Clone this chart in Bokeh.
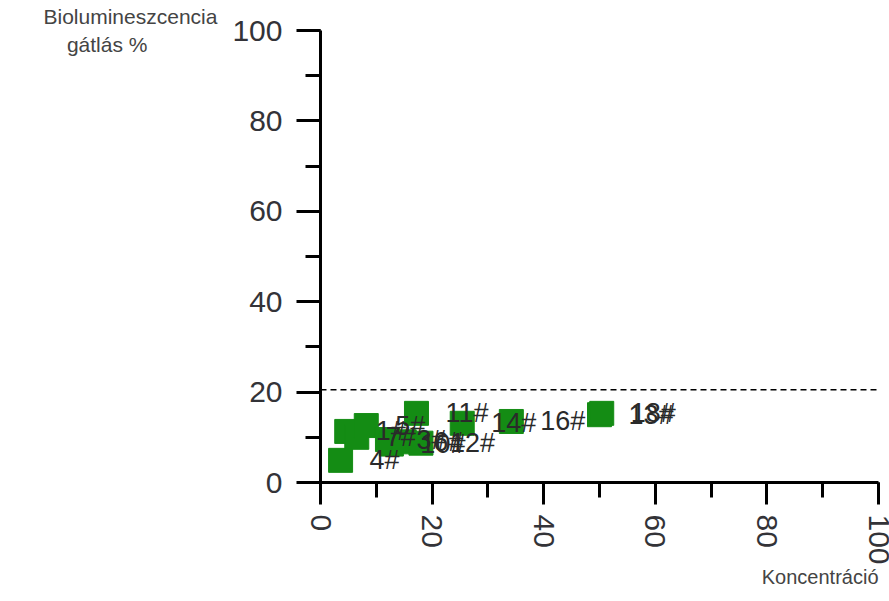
import math
from bokeh.plotting import figure
from bokeh.models import Range1d, SingleIntervalTicker, Span, ColumnDataSource, Title
from bokeh.core.properties import value
from bokeh.embed import file_html
from bokeh.resources import INLINE

# Data
names = ["4#", "1#", "7#", "5#", "3#", "10#", "6#", "12#", "11#", "14#", "16#", "13#", "18#"]
conc = [3.6, 4.7, 6.5, 8.2, 12.0, 12.7, 15.0, 18.0, 17.2, 25.4, 34.2, 50.0, 50.4]
inhib = [4.9, 11.3, 10.0, 12.6, 9.5, 8.5, 9.0, 8.7, 15.3, 13.1, 13.5, 15.0, 15.3]
threshold = 20.5
x_label = "Koncentráció"
y_label_lines = ["Biolumineszcencia", "gátlás %"]

FONT = "Liberation Sans"
NBSP = "\u00a0"

src = ColumnDataSource(dict(x=conc, y=inhib, name=names))

p = figure(width=889, height=601, output_backend="svg", toolbar_location=None,
           x_range=Range1d(0, 100), y_range=Range1d(0, 100),
           min_border_left=320, min_border_right=11, min_border_top=30, min_border_bottom=119)
p.outline_line_color = None
p.grid.visible = False
p.background_fill_color = "white"

for ax in (p.xaxis[0], p.yaxis[0]):
    ax.ticker = SingleIntervalTicker(interval=20, num_minor_ticks=2)
    ax.axis_line_width = 3
    ax.major_tick_line_width = 3
    ax.minor_tick_line_width = 3
    ax.major_tick_in = 0
    ax.minor_tick_in = 0
    ax.major_label_text_font = FONT
    ax.major_label_text_font_size = "30px"
    ax.major_label_text_color = "#333338"
    ax.axis_label_text_font = FONT
    ax.axis_label_text_font_size = "21px"
    ax.axis_label_text_font_style = "normal"
    ax.axis_label_text_color = "#444444"

p.yaxis.major_tick_out = 24
p.yaxis.minor_tick_out = 15
p.yaxis.major_label_standoff = 14
p.xaxis.major_tick_out = 22
p.xaxis.minor_tick_out = 15
p.xaxis.major_label_standoff = 10
p.xaxis.major_label_orientation = -math.pi / 2

# two-line horizontal y title at the top of the axis, second line centred under the first
yax = p.yaxis[0]
yax.axis_label = y_label_lines[0] + "\n" + y_label_lines[1] + NBSP * 12
yax.axis_label_orientation = "horizontal"
yax.axis_label_standoff = 12
yax.axis_label_align = "end"

xt = Title(text=x_label, align="right", text_font=FONT, text_font_size="20px",
           text_font_style="normal", text_color="#444444")
try:
    xt.standoff = -8
except Exception:
    xt.standoff = 0
p.add_layout(xt, "below")

p.add_layout(Span(location=threshold, dimension="width", line_color="black",
                  line_dash="6 4", line_width=1.5))

p.scatter("x", "y", source=src, marker="square", size=24,
          fill_color="#148c14", line_color="#148c14")
p.text("x", "y", text="name", source=src, x_offset=29,
       text_align="left", text_baseline="middle",
       text_font=value(FONT), text_font_size="27px", text_color="#2a2a2a")

open("out.html", "w").write(file_html(p, INLINE))
